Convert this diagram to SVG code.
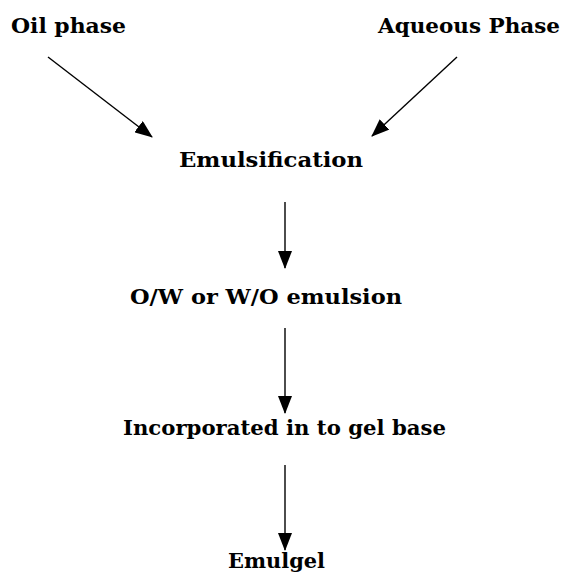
<svg xmlns="http://www.w3.org/2000/svg" width="563" height="573" viewBox="0 0 563 573">
<defs>
<style>
.t{font-family:"DejaVu Serif","Liberation Serif",serif;font-weight:bold;font-size:20.5px;fill:#000;text-anchor:middle}
.c{stroke:#000;stroke-width:1.4;fill:none;marker-end:url(#ah)}
</style>
<marker id="ah" markerWidth="18" markerHeight="14" refX="17" refY="7" orient="auto" markerUnits="userSpaceOnUse">
<path d="M0,0 L18,7 L0,14 Z" fill="#000"/>
</marker>
</defs>
<rect width="563" height="573" fill="#fff"/>
<g id="oil"><text class="t" x="68.5" y="33" textLength="115" lengthAdjust="spacingAndGlyphs">Oil phase</text></g>
<g id="aqueous"><text class="t" x="469" y="33" textLength="182" lengthAdjust="spacingAndGlyphs">Aqueous Phase</text></g>
<g id="emulsification"><text class="t" x="271" y="167" textLength="184" lengthAdjust="spacingAndGlyphs">Emulsification</text></g>
<g id="emulsion"><text class="t" x="266" y="304" textLength="272" lengthAdjust="spacingAndGlyphs">O/W or W/O emulsion</text></g>
<g id="incorporated"><text class="t" x="284.5" y="435" textLength="323" lengthAdjust="spacingAndGlyphs">Incorporated in to gel base</text></g>
<g id="emulgel"><text class="t" x="276.5" y="568" textLength="97" lengthAdjust="spacingAndGlyphs">Emulgel</text></g>
<g id="connectors">
<line class="c" x1="48" y1="57" x2="152" y2="137"/>
<line class="c" x1="457" y1="57" x2="372" y2="136"/>
<line class="c" x1="285" y1="202" x2="285" y2="268"/>
<line class="c" x1="285" y1="328" x2="285" y2="413"/>
<line class="c" x1="285" y1="465" x2="285" y2="550"/>
</g>
</svg>
